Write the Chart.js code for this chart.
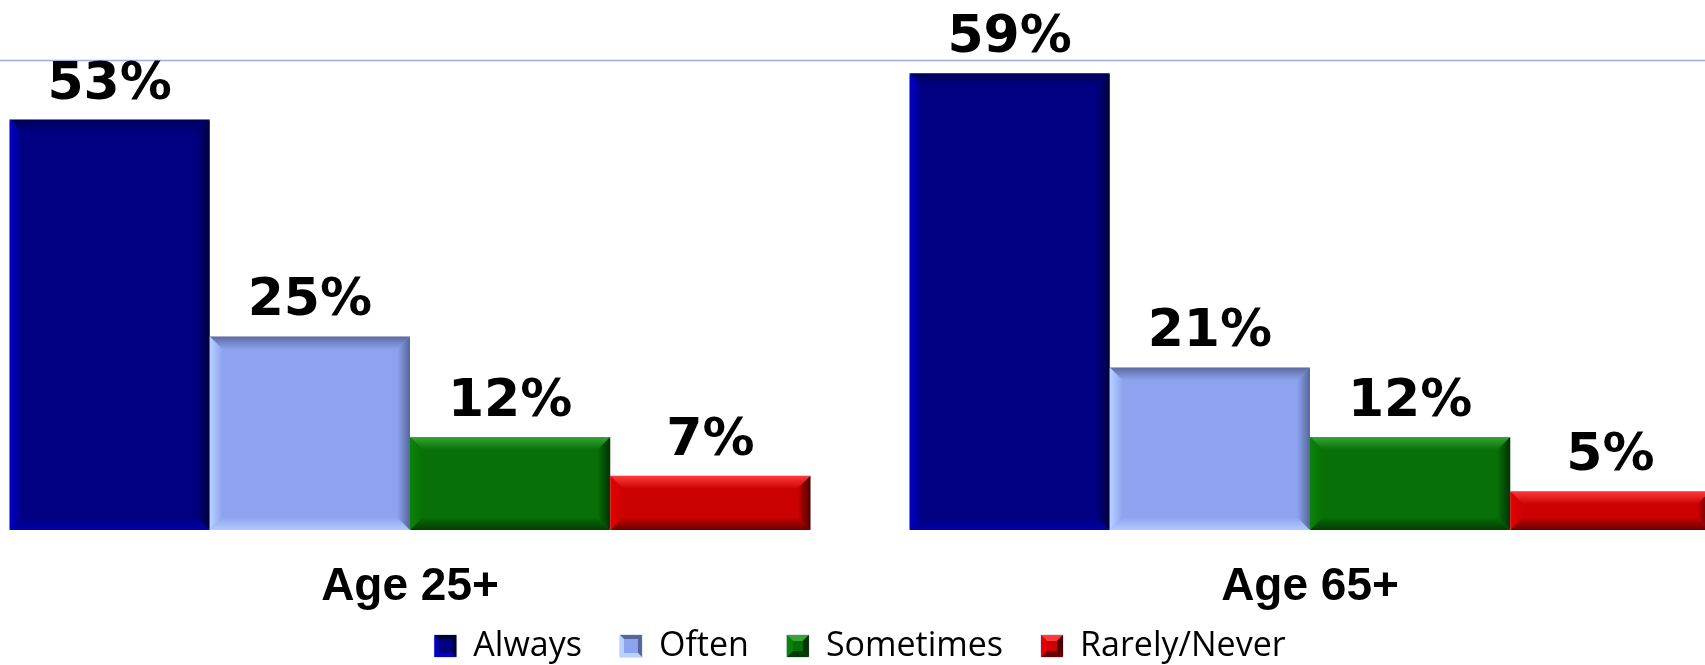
<!DOCTYPE html>
<html lang="en">
<head>
    <meta charset="UTF-8">
    <title>Frequency by age group</title>
    <style>
        html, body {
            margin: 0;
            width: 1705px;
            height: 665px;
            overflow: hidden;
            background: #fff;
        }
        #wrap {
            position: absolute;
            left: -40px;
            top: 0;
            width: 1800px;
            height: 665px;
        }
    </style>
    <script src="https://cdn.jsdelivr.net/npm/chart.js"></script>
</head>
<body>
<div id="wrap"><canvas id="freqChart"></canvas></div>
<script>
    const categories = ['Age 25+', 'Age 65+'];
    const seriesNames = ['Always', 'Often', 'Sometimes', 'Rarely/Never'];
    const always = [53, 59];
    const often = [25, 21];
    const sometimes = [12, 12];
    const rarely = [7, 5];

    // main fill + bevel edge colours (top, right, bottom, left)
    const fills = ['#000080', '#8da3ef', '#077007', '#cc0202'];
    const bevels = [
        {t: '#00005a', r: '#000038', b: '#0000a8', l: '#0000cc'},
        {t: '#5b6b9f', r: '#56669a', b: '#b2caff', l: '#b8d2ff'},
        {t: '#35a535', r: '#023202', b: '#033c03', l: '#0b830b'},
        {t: '#ff3a3a', r: '#4a0000', b: '#6a0000', l: '#e40000'}
    ];

    function side(ctx, pts, x0, y0, x1, y1, edge, main) {
        const g = ctx.createLinearGradient(x0, y0, x1, y1);
        g.addColorStop(0, edge);
        g.addColorStop(1, main);
        ctx.fillStyle = g;
        ctx.beginPath();
        ctx.moveTo(pts[0], pts[1]);
        for (let i = 2; i < pts.length; i += 2) ctx.lineTo(pts[i], pts[i + 1]);
        ctx.closePath();
        ctx.fill();
    }

    function bevelBox(ctx, l, t, r, b, w, c, main) {
        side(ctx, [l, t, r, t, r - w, t + w, l + w, t + w], 0, t, 0, t + w, c.t, main);
        side(ctx, [l, b, r, b, r - w, b - w, l + w, b - w], 0, b, 0, b - w, c.b, main);
        side(ctx, [l, t, l + w, t + w, l + w, b - w, l, b], l, 0, l + w, 0, c.l, main);
        side(ctx, [r, t, r - w, t + w, r - w, b - w, r, b], r, 0, r - w, 0, c.r, main);
    }

    const barDecor = {
        id: 'barDecor',
        afterLayout(chart) {
            // legend takes little room in the layout, then sits at the very bottom
            const lg = chart.legend;
            if (lg) {
                lg.top = 591;
                lg.bottom = chart.height;
                lg.height = lg.bottom - lg.top;
            }
        },
        beforeDatasetsDraw(chart) {
            const {ctx, chartArea} = chart;
            ctx.save();
            ctx.strokeStyle = '#98acee';
            ctx.lineWidth = 1.5;
            ctx.beginPath();
            ctx.moveTo(0, chartArea.top + 0.5);
            ctx.lineTo(chart.width, chartArea.top + 0.5);
            ctx.stroke();
            ctx.restore();
        },
        afterDatasetsDraw(chart) {
            const {ctx} = chart;
            ctx.save();
            chart.data.datasets.forEach((ds, di) => {
                chart.getDatasetMeta(di).data.forEach((bar, i) => {
                    const p = bar.getProps(['x', 'y', 'base', 'width'], true);
                    const l = p.x - p.width / 2, r = p.x + p.width / 2;
                    const t = p.y, b = p.base;
                    const w = Math.min(13, (b - t) / 2.6);
                    bevelBox(ctx, l, t, r, b, w, bevels[di], fills[di]);
                    ctx.fillStyle = '#000';
                    ctx.font = 'bold 52px "DejaVu Sans"';
                    ctx.textAlign = 'center';
                    ctx.textBaseline = 'alphabetic';
                    ctx.fillText(ds.data[i] + '%', p.x, t - 21);
                });
            });
            ctx.restore();
        },
        afterDraw(chart) {
            const lg = chart.legend;
            if (!lg || !lg.legendHitBoxes) return;
            const ctx = chart.ctx;
            ctx.save();
            lg.legendHitBoxes.forEach((hb, i) => {
                const s = 22;
                const l = hb.left, t = hb.top + (hb.height - s) / 2;
                const c = bevels[i], cx = l + s / 2, cy = t + s / 2;
                const tri = (pts, col) => {
                    ctx.fillStyle = col;
                    ctx.beginPath();
                    ctx.moveTo(pts[0], pts[1]);
                    ctx.lineTo(pts[2], pts[3]);
                    ctx.lineTo(pts[4], pts[5]);
                    ctx.closePath();
                    ctx.fill();
                };
                if (i < 2) {
                    tri([l, t, l + s, t, l + s, t + s], c.r);
                    tri([l, t, l, t + s, l + s, t + s], c.l);
                    ctx.fillStyle = fills[i];
                    ctx.fillRect(l + 4, t + 4, s - 8, s - 8);
                } else {
                    tri([l, t, l + s, t, cx, cy], c.t);
                    tri([l + s, t, l + s, t + s, cx, cy], c.r);
                    tri([l, t + s, l + s, t + s, cx, cy], c.b);
                    tri([l, t, l, t + s, cx, cy], c.l);
                    ctx.fillStyle = fills[i];
                    ctx.fillRect(l + 6, t + 6, s - 12, s - 12);
                }
            });
            ctx.restore();
        }
    };

    const seriesData = [always, often, sometimes, rarely];

    new Chart(document.getElementById('freqChart'), {
        type: 'bar',
        data: {
            labels: categories,
            datasets: seriesNames.map((name, i) => ({
                label: name,
                data: seriesData[i],
                backgroundColor: fills[i],
                borderColor: 'rgba(170,180,225,0.7)',
                borderWidth: 1,
                categoryPercentage: 0.89,
                barPercentage: 1.0
            }))
        },
        options: {
            responsive: true,
            maintainAspectRatio: false,
            animation: false,
            layout: {padding: {top: 60, left: 0, right: 0, bottom: 0}},
            scales: {
                x: {
                    grid: {display: false, drawTicks: false, tickLength: 0},
                    border: {display: false},
                    ticks: {
                        color: '#000',
                        padding: 30,
                        font: {family: '"Liberation Sans", Arial, sans-serif', size: 46, weight: 'bold'}
                    },
                    afterFit(scale) { scale.height = 115; }
                },
                y: {
                    display: false,
                    min: 0,
                    max: 60.7
                }
            },
            plugins: {
                legend: {
                    position: 'bottom',
                    maxHeight: 20,
                    labels: {
                        color: '#000',
                        boxWidth: 22,
                        boxHeight: 22,
                        padding: 38,
                        font: {family: '"Open Sans", sans-serif', size: 34}
                    }
                },
                tooltip: {enabled: false}
            }
        },
        plugins: [barDecor]
    });
</script>
</body>
</html>
